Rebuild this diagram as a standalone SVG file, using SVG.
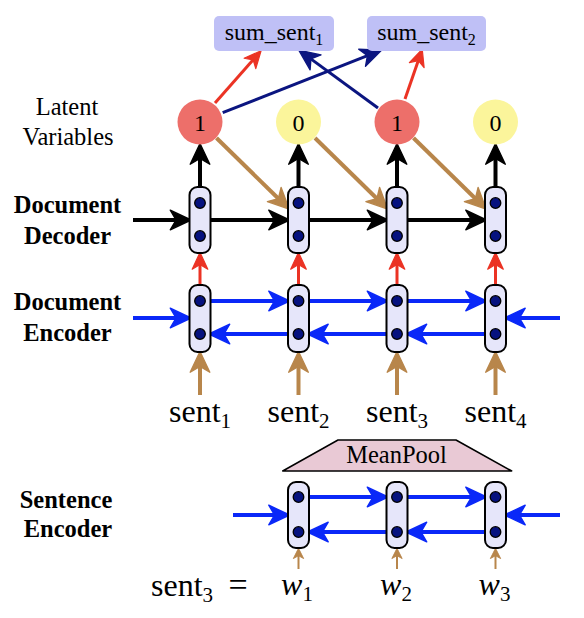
<svg xmlns="http://www.w3.org/2000/svg" width="584" height="618" viewBox="0 0 584 618">
<style>
.cell{fill:#E6E6FA;stroke:#000;stroke-width:2}
.dot{fill:#06127F;stroke:#000;stroke-width:1.3}
.lbl{font-family:"Liberation Serif","Times New Roman",serif;fill:#000}
.b{font-weight:bold;font-size:24.5px;text-anchor:middle}
.r{font-size:24.5px;text-anchor:middle}
.big{font-size:32px;text-anchor:middle}
.blk{stroke:#000;stroke-width:4;fill:none}
.blu{stroke:#0A28F8;stroke-width:4;fill:none}
.red{stroke:#EB3324;stroke-width:3;fill:none}
.brn{stroke:#B8864B;stroke-width:4;fill:none}
.brs{stroke:#B8864B;stroke-width:2;fill:none}
.nav{stroke:#0B1580;stroke-width:3;fill:none}
</style>
<defs>
<marker id="mk-blk" markerUnits="userSpaceOnUse" markerWidth="30" markerHeight="30" refX="8" refY="0" orient="auto" viewBox="-3 -10 26 20" overflow="visible"><path d="M0,-8.5 L18,0 L0,8.5 L5,0 Z" fill="#000" stroke="#000" stroke-width="1.2" stroke-linejoin="round"/></marker>
<marker id="mk-blu" markerUnits="userSpaceOnUse" markerWidth="30" markerHeight="30" refX="8" refY="0" orient="auto" viewBox="-3 -10 26 20" overflow="visible"><path d="M0,-8.5 L18,0 L0,8.5 L5,0 Z" fill="#0A28F8" stroke="#0A28F8" stroke-width="1.2" stroke-linejoin="round"/></marker>
<marker id="mk-brn" markerUnits="userSpaceOnUse" markerWidth="30" markerHeight="30" refX="8" refY="0" orient="auto" viewBox="-3 -10 26 20" overflow="visible"><path d="M0,-8.5 L18,0 L0,8.5 L5,0 Z" fill="#B8864B" stroke="#B8864B" stroke-width="1.2" stroke-linejoin="round"/></marker>
<marker id="mk-nav" markerUnits="userSpaceOnUse" markerWidth="30" markerHeight="30" refX="8" refY="0" orient="auto" viewBox="-3 -10 26 20" overflow="visible"><path d="M0,-8 L18,0 L0,8 L5,0 Z" fill="#0B1580" stroke="#0B1580" stroke-width="1.2" stroke-linejoin="round"/></marker>
<marker id="mk-red" markerUnits="userSpaceOnUse" markerWidth="24" markerHeight="24" refX="6" refY="0" orient="auto" viewBox="-3 -8 20 16" overflow="visible"><path d="M0,-6.5 L14,0 L0,6.5 L4,0 Z" fill="#EB3324" stroke="#EB3324" stroke-width="1" stroke-linejoin="round"/></marker>
<marker id="mk-brs" markerUnits="userSpaceOnUse" markerWidth="16" markerHeight="16" refX="4" refY="0" orient="auto" viewBox="-2 -6 14 12" overflow="visible"><path d="M0,-4.5 L9,0 L0,4.5 L2.5,0 Z" fill="#B8864B" stroke="#B8864B" stroke-width="0.8" stroke-linejoin="round"/></marker>
</defs>

<g id="connectors">
  <line class="red" x1="215" y1="103" x2="254.7" y2="58" marker-end="url(#mk-red)"/>
  <line class="red" x1="405" y1="99" x2="419.1" y2="58.3" marker-end="url(#mk-red)"/>
  <line class="nav" x1="222.7" y1="112.7" x2="370.7" y2="54.4" marker-end="url(#mk-nav)"/>
  <line class="nav" x1="378" y1="108" x2="308.1" y2="56.9" marker-end="url(#mk-nav)"/>
  <line class="blk" x1="200" y1="187" x2="200" y2="155" marker-end="url(#mk-blk)"/>
  <line class="blk" x1="298.5" y1="187" x2="298.5" y2="155" marker-end="url(#mk-blk)"/>
  <line class="blk" x1="397" y1="187" x2="397" y2="155" marker-end="url(#mk-blk)"/>
  <line class="blk" x1="495.5" y1="187" x2="495.5" y2="155" marker-end="url(#mk-blk)"/>
  <line class="brn" x1="216.5" y1="138" x2="280.85" y2="201" marker-end="url(#mk-brn)"/>
  <line class="brn" x1="315" y1="138" x2="379.35" y2="201" marker-end="url(#mk-brn)"/>
  <line class="brn" x1="413.5" y1="138" x2="477.85" y2="201" marker-end="url(#mk-brn)"/>
  <line class="blk" x1="133" y1="220" x2="179.5" y2="220" marker-end="url(#mk-blk)"/>
  <line class="blk" x1="210.5" y1="220" x2="278" y2="220" marker-end="url(#mk-blk)"/>
  <line class="blk" x1="309" y1="220" x2="376.5" y2="220" marker-end="url(#mk-blk)"/>
  <line class="blk" x1="407.5" y1="220" x2="475" y2="220" marker-end="url(#mk-blk)"/>
  <line class="red" x1="200" y1="285" x2="200" y2="262" marker-end="url(#mk-red)"/>
  <line class="red" x1="298.5" y1="285" x2="298.5" y2="262" marker-end="url(#mk-red)"/>
  <line class="red" x1="397" y1="285" x2="397" y2="262" marker-end="url(#mk-red)"/>
  <line class="red" x1="495.5" y1="285" x2="495.5" y2="262" marker-end="url(#mk-red)"/>
  <line class="blu" x1="133" y1="318" x2="179.5" y2="318" marker-end="url(#mk-blu)"/>
  <line class="blu" x1="560" y1="318" x2="516" y2="318" marker-end="url(#mk-blu)"/>
  <line class="blu" x1="210.5" y1="301" x2="278" y2="301" marker-end="url(#mk-blu)"/>
  <line class="blu" x1="309" y1="301" x2="376.5" y2="301" marker-end="url(#mk-blu)"/>
  <line class="blu" x1="407.5" y1="301" x2="475" y2="301" marker-end="url(#mk-blu)"/>
  <line class="blu" x1="288" y1="334" x2="220.5" y2="334" marker-end="url(#mk-blu)"/>
  <line class="blu" x1="386.5" y1="334" x2="319" y2="334" marker-end="url(#mk-blu)"/>
  <line class="blu" x1="485" y1="334" x2="417.5" y2="334" marker-end="url(#mk-blu)"/>
  <line class="brn" x1="200" y1="395" x2="200" y2="363" marker-end="url(#mk-brn)"/>
  <line class="brn" x1="298.5" y1="395" x2="298.5" y2="363" marker-end="url(#mk-brn)"/>
  <line class="brn" x1="397" y1="395" x2="397" y2="363" marker-end="url(#mk-brn)"/>
  <line class="brn" x1="495.5" y1="395" x2="495.5" y2="363" marker-end="url(#mk-brn)"/>
  <line class="blu" x1="233" y1="515" x2="278" y2="515" marker-end="url(#mk-blu)"/>
  <line class="blu" x1="560" y1="515" x2="516" y2="515" marker-end="url(#mk-blu)"/>
  <line class="blu" x1="309" y1="497" x2="376.5" y2="497" marker-end="url(#mk-blu)"/>
  <line class="blu" x1="407.5" y1="497" x2="475" y2="497" marker-end="url(#mk-blu)"/>
  <line class="blu" x1="386.5" y1="532" x2="319" y2="532" marker-end="url(#mk-blu)"/>
  <line class="blu" x1="485" y1="532" x2="417.5" y2="532" marker-end="url(#mk-blu)"/>
  <line class="brs" x1="298.5" y1="569" x2="298.5" y2="554" marker-end="url(#mk-brs)"/>
  <line class="brs" x1="397" y1="569" x2="397" y2="554" marker-end="url(#mk-brs)"/>
  <line class="brs" x1="495.5" y1="569" x2="495.5" y2="554" marker-end="url(#mk-brs)"/>
</g>

<g id="labels">
  <text class="lbl r" x="67" y="115">Latent</text>
  <text class="lbl r" x="68" y="145">Variables</text>
  <text class="lbl b" x="67.5" y="213">Document</text>
  <text class="lbl b" x="67.5" y="244">Decoder</text>
  <text class="lbl b" x="67.5" y="310">Document</text>
  <text class="lbl b" x="67.5" y="341">Encoder</text>
  <text class="lbl b" x="66" y="508">Sentence</text>
  <text class="lbl b" x="68" y="537">Encoder</text>
</g>

<g id="sum1"><rect x="214" y="16" width="120" height="35" rx="5" fill="#BFC0F6"/><text class="lbl" x="274" y="40" font-size="24" text-anchor="middle">sum_sent<tspan font-size="16" dy="5">1</tspan></text></g>
<g id="sum2"><rect x="367" y="16" width="119" height="35" rx="5" fill="#BFC0F6"/><text class="lbl" x="426.5" y="40" font-size="24" text-anchor="middle">sum_sent<tspan font-size="16" dy="5">2</tspan></text></g>

<g id="z1"><circle cx="200" cy="122" r="22.5" fill="#ED6F6A"/><text class="lbl" x="200" y="131" font-size="24" text-anchor="middle">1</text></g>
<g id="z2"><circle cx="298.5" cy="122" r="22.5" fill="#FBF59B"/><text class="lbl" x="298.5" y="131" font-size="24" text-anchor="middle">0</text></g>
<g id="z3"><circle cx="397" cy="122" r="22.5" fill="#ED6F6A"/><text class="lbl" x="397" y="131" font-size="24" text-anchor="middle">1</text></g>
<g id="z4"><circle cx="495.5" cy="122" r="22.5" fill="#FBF59B"/><text class="lbl" x="495.5" y="131" font-size="24" text-anchor="middle">0</text></g>

<g id="dec1"><rect class="cell" x="189.5" y="187" width="21" height="66" rx="8"/><circle class="dot" cx="200" cy="203" r="5.3"/><circle class="dot" cx="200" cy="236" r="5.3"/></g>
<g id="dec2"><rect class="cell" x="288" y="187" width="21" height="66" rx="8"/><circle class="dot" cx="298.5" cy="203" r="5.3"/><circle class="dot" cx="298.5" cy="236" r="5.3"/></g>
<g id="dec3"><rect class="cell" x="386.5" y="187" width="21" height="66" rx="8"/><circle class="dot" cx="397" cy="203" r="5.3"/><circle class="dot" cx="397" cy="236" r="5.3"/></g>
<g id="dec4"><rect class="cell" x="485" y="187" width="21" height="66" rx="8"/><circle class="dot" cx="495.5" cy="203" r="5.3"/><circle class="dot" cx="495.5" cy="236" r="5.3"/></g>

<g id="enc1"><rect class="cell" x="189.5" y="285" width="21" height="67" rx="8"/><circle class="dot" cx="200" cy="301" r="5.3"/><circle class="dot" cx="200" cy="334" r="5.3"/></g>
<g id="enc2"><rect class="cell" x="288" y="285" width="21" height="67" rx="8"/><circle class="dot" cx="298.5" cy="301" r="5.3"/><circle class="dot" cx="298.5" cy="334" r="5.3"/></g>
<g id="enc3"><rect class="cell" x="386.5" y="285" width="21" height="67" rx="8"/><circle class="dot" cx="397" cy="301" r="5.3"/><circle class="dot" cx="397" cy="334" r="5.3"/></g>
<g id="enc4"><rect class="cell" x="485" y="285" width="21" height="67" rx="8"/><circle class="dot" cx="495.5" cy="301" r="5.3"/><circle class="dot" cx="495.5" cy="334" r="5.3"/></g>

<g id="sent1"><text class="lbl big" x="200" y="422">sent<tspan font-size="21" dy="6">1</tspan></text></g>
<g id="sent2"><text class="lbl big" x="298.5" y="422">sent<tspan font-size="21" dy="6">2</tspan></text></g>
<g id="sent3"><text class="lbl big" x="397" y="422">sent<tspan font-size="21" dy="6">3</tspan></text></g>
<g id="sent4"><text class="lbl big" x="495.5" y="422">sent<tspan font-size="21" dy="6">4</tspan></text></g>

<g id="meanpool"><polygon points="282.7,471 338,440 456,440 511.7,471" fill="#E9C9D5" stroke="#000" stroke-width="1.5" stroke-linejoin="round"/><text class="lbl" x="396.5" y="463" font-size="24.5" text-anchor="middle">MeanPool</text></g>

<g id="w1cell"><rect class="cell" x="288" y="482" width="21" height="66" rx="8"/><circle class="dot" cx="298.5" cy="497" r="5.3"/><circle class="dot" cx="298.5" cy="532" r="5.3"/></g>
<g id="w2cell"><rect class="cell" x="386.5" y="482" width="21" height="66" rx="8"/><circle class="dot" cx="397" cy="497" r="5.3"/><circle class="dot" cx="397" cy="532" r="5.3"/></g>
<g id="w3cell"><rect class="cell" x="485" y="482" width="21" height="66" rx="8"/><circle class="dot" cx="495.5" cy="497" r="5.3"/><circle class="dot" cx="495.5" cy="532" r="5.3"/></g>

<g id="sent3eq"><text class="lbl" x="151" y="596" font-size="32">sent<tspan font-size="21" dy="6">3</tspan></text><text class="lbl" x="238" y="596" font-size="34" text-anchor="middle">=</text></g>
<g id="w1"><text class="lbl big" x="297" y="595"><tspan font-style="italic">w</tspan><tspan font-size="21" dy="6">1</tspan></text></g>
<g id="w2"><text class="lbl big" x="396" y="595"><tspan font-style="italic">w</tspan><tspan font-size="21" dy="6">2</tspan></text></g>
<g id="w3"><text class="lbl big" x="494.5" y="595"><tspan font-style="italic">w</tspan><tspan font-size="21" dy="6">3</tspan></text></g>
</svg>
